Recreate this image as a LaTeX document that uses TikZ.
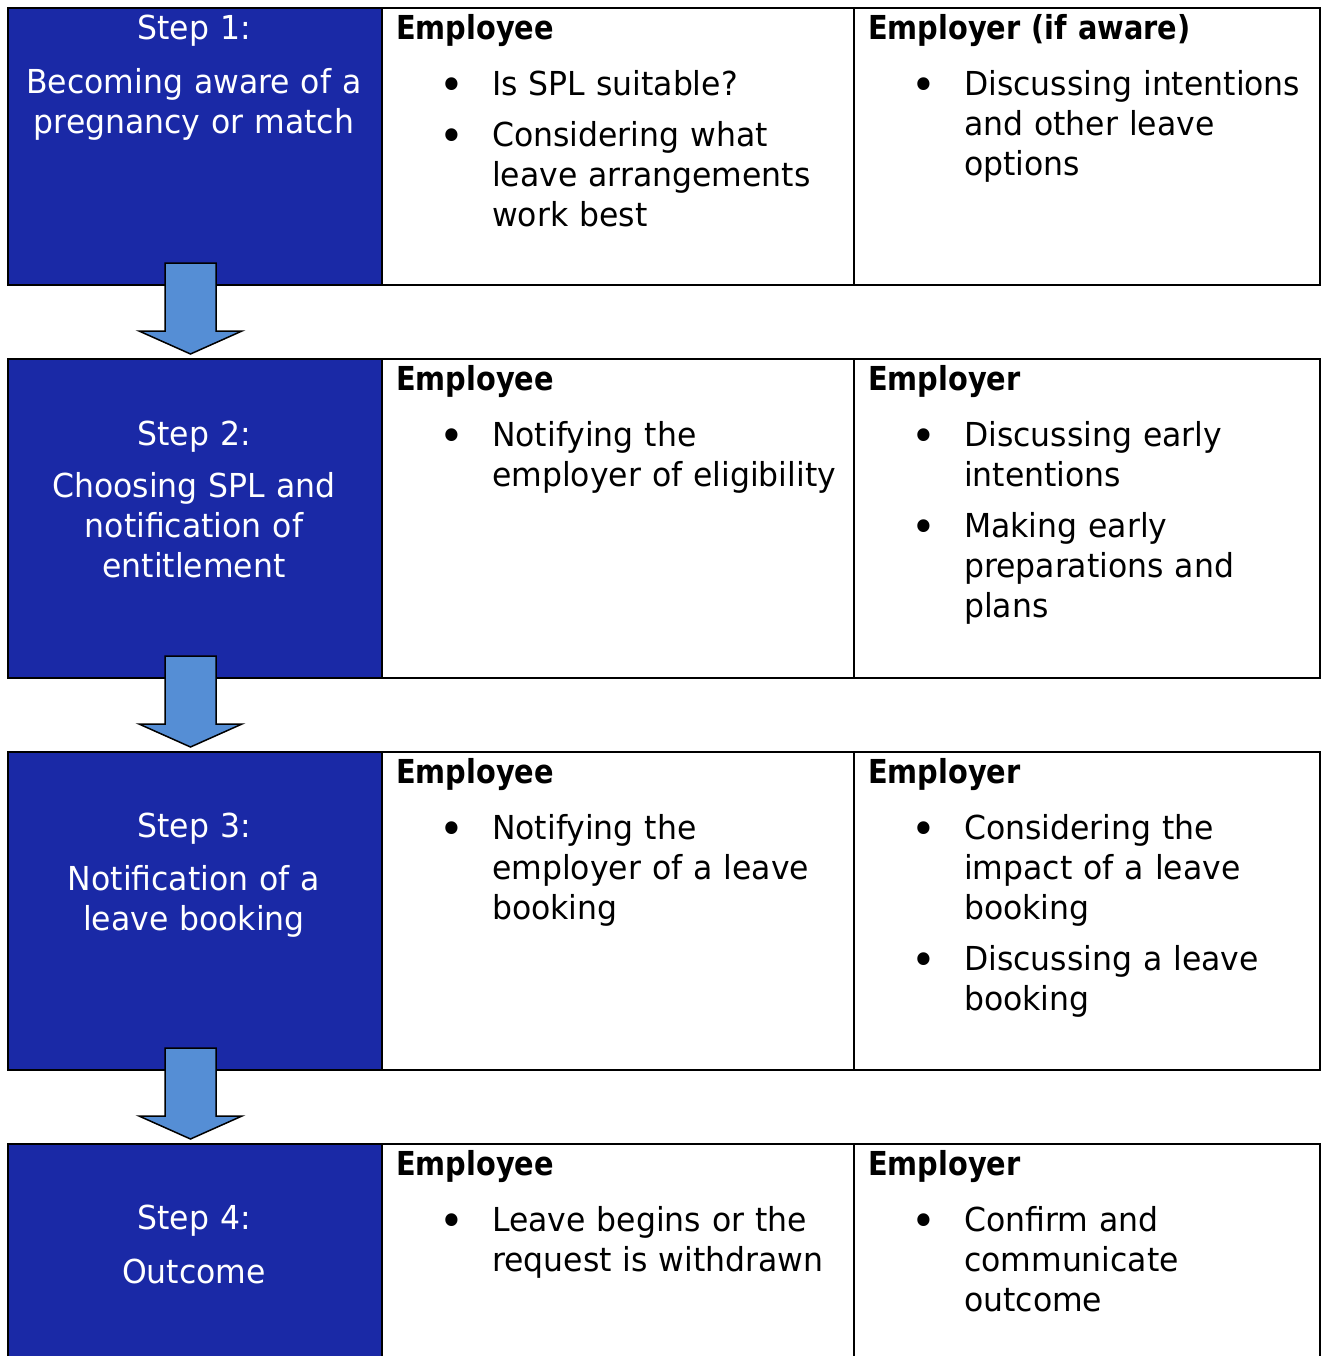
\documentclass[tikz,border=0pt]{standalone}
\usepackage{fontspec}
\setmainfont{DejaVu Sans Condensed}[FakeStretch=1.06]
\newfontfamily\headfont{DejaVu Sans Condensed}[FakeStretch=0.97]
\usetikzlibrary{positioning}
\setlength{\parindent}{0pt}

\definecolor{stepblue}{HTML}{1A29A6}
\definecolor{arrowblue}{HTML}{558ED5}

\tikzset{
  stepbox/.style={fill=stepblue},
  gridline/.style={line width=2.5pt},
  downarrow/.style={fill=arrowblue, draw=black, line width=1.5pt, line join=miter},
  steptext/.style={anchor=north, inner sep=0pt, text width=370pt, align=center,
    text=white, font=\fontsize{33}{40}\selectfont},
  celltext/.style={anchor=north west, inner sep=0pt, text width=455pt, align=left,
    font=\fontsize{33}{40}\selectfont},
}
\newcommand{\firstline}{\rule{0pt}{28pt}}
\newcommand{\cellhead}[1]{\firstline{\headfont\bfseries #1}\par\vspace{16pt}}
\newcommand{\bulmark}{\raisebox{-5pt}{\fontsize{44}{40}\selectfont\textbullet}}
\newcommand{\bul}[1]{{\leftskip=96pt\noindent\llap{\makebox[53pt][l]{\bulmark}}#1\par}\vspace{11pt}}

\begin{document}
\begin{tikzpicture}[x=1pt, y=-1pt]
  \clip (0,0) rectangle (1322,1356);
  % blue step cells
  \fill[stepbox] (8,8) rectangle (382,285);
  \fill[stepbox] (8,359) rectangle (382,678);
  \fill[stepbox] (8,752) rectangle (382,1070);
  \fill[stepbox] (8,1144) rectangle (382,1400);
  % table rows
  \draw[gridline] (8,8) rectangle (1320,285) (382,8) -- (382,285) (854,8) -- (854,285);
  \draw[gridline] (8,359) rectangle (1320,678) (382,359) -- (382,678) (854,359) -- (854,678);
  \draw[gridline] (8,752) rectangle (1320,1070) (382,752) -- (382,1070) (854,752) -- (854,1070);
  \draw[gridline] (8,1144) rectangle (1320,1400) (382,1144) -- (382,1400) (854,1144) -- (854,1400);
  % arrows between steps
  \foreach \b in {285,678,1070}{
    \draw[downarrow] (165,\b-22) -- (216,\b-22) -- (216,\b+46) -- (242,\b+46)
      -- (190.5,\b+69) -- (139,\b+46) -- (165,\b+46) -- cycle;
  }

  % step 1
  \node[steptext] (step1) at (194,11) {\firstline Step 1:\par\vspace{14pt}Becoming aware of a\\pregnancy or match};
  \node[celltext] (employee1) at (396,11) {\cellhead{Employee}\bul{Is SPL suitable?}\bul{Considering what\\leave arrangements\\work best}};
  \node[celltext] (employer1) at (868,11) {\cellhead{Employer (if aware)}\bul{Discussing intentions\\and other leave\\options}};

  % step 2
  \node[steptext] (step2) at (194,417) {\firstline Step 2:\par\vspace{12pt}Choosing SPL and\\notification of\\entitlement};
  \node[celltext] (employee2) at (396,362) {\cellhead{Employee}\bul{Notifying the\\employer of eligibility}};
  \node[celltext] (employer2) at (868,362) {\cellhead{Employer}\bul{Discussing early\\intentions}\bul{Making early\\preparations and\\plans}};

  % step 3
  \node[steptext] (step3) at (194,809) {\firstline Step 3:\par\vspace{13pt}Notification of a\\leave booking};
  \node[celltext] (employee3) at (396,755) {\cellhead{Employee}\bul{Notifying the\\employer of a leave\\booking}};
  \node[celltext] (employer3) at (868,755) {\cellhead{Employer}\bul{Considering the\\impact of a leave\\booking}\bul{Discussing a leave\\booking}};

  % step 4
  \node[steptext] (step4) at (194,1201) {\firstline Step 4:\par\vspace{14pt}Outcome};
  \node[celltext] (employee4) at (396,1147) {\cellhead{Employee}\bul{Leave begins or the\\request is withdrawn}};
  \node[celltext] (employer4) at (868,1147) {\cellhead{Employer}\bul{Confirm and\\communicate\\outcome}};
\end{tikzpicture}
\end{document}
